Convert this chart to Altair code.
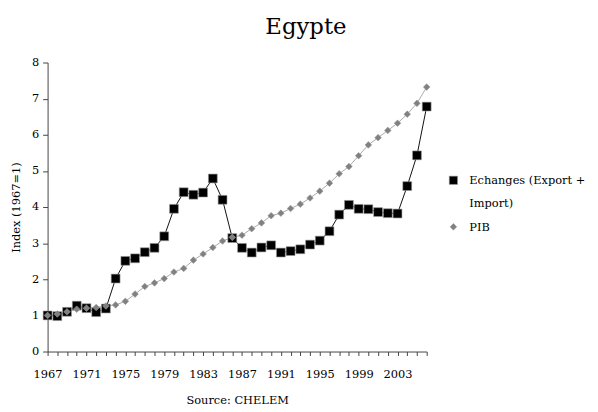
import altair as alt
import pandas as pd

years = list(range(1967, 2007))
echanges = [1.00, 0.98, 1.10, 1.27, 1.20, 1.09, 1.19, 2.02, 2.51, 2.58,
            2.75, 2.87, 3.19, 3.95, 4.41, 4.34, 4.40, 4.79, 4.20, 3.14,
            2.87, 2.74, 2.88, 2.94, 2.74, 2.78, 2.83, 2.96, 3.07, 3.33,
            3.79, 4.06, 3.95, 3.94, 3.86, 3.83, 3.82, 4.58, 5.43, 6.78]
pib = [1.00, 1.04, 1.10, 1.17, 1.20, 1.22, 1.26, 1.29, 1.39, 1.59,
       1.80, 1.90, 2.02, 2.20, 2.30, 2.53, 2.70, 2.88, 3.06, 3.16,
       3.22, 3.40, 3.56, 3.76, 3.83, 3.96, 4.08, 4.25, 4.44, 4.66,
       4.92, 5.12, 5.42, 5.72, 5.92, 6.12, 6.32, 6.57, 6.87, 7.32]

s1 = "Echanges (Export + Import)"
s2 = "PIB"
legend_lines_1 = ["Echanges (Export +", "Import)"]
legend_lines_2 = ["PIB"]

df = pd.DataFrame({
    "year": years + years,
    "value": echanges + pib,
    "series": [s1] * len(years) + [s2] * len(years),
})
df["line_series"] = df["series"]

font = "DejaVu Serif"

x = alt.X("year:Q", scale=alt.Scale(domain=[1967, 2006], nice=False, zero=False),
          axis=alt.Axis(values=years, labelExpr="(datum.value - 1967) % 4 == 0 ? datum.value : ''",
                        title="Source: CHELEM", grid=False, tickSize=4, labelPadding=13,
                        titlePadding=15, domainColor="#444", tickColor="#444", labelFlush=False))
y = alt.Y("value:Q", scale=alt.Scale(domain=[0, 8], nice=False),
          axis=alt.Axis(values=list(range(0, 9)), title="Index (1967=1)", grid=False,
                        tickSize=5, labelPadding=4, titlePadding=10,
                        domainColor="#444", tickColor="#444"))

base = alt.Chart(df)
lines = base.mark_line(strokeWidth=1).encode(
    x=x, y=y,
    color=alt.Color("line_series:N", scale=alt.Scale(domain=[s1, s2], range=["#111111", "#aaaaaa"]), legend=None),
)
points = base.mark_point(filled=True, opacity=1, stroke="#9a9a9a", strokeWidth=0.6).encode(
    x=x, y=y,
    fill=alt.Fill("series:N", scale=alt.Scale(domain=[s1, s2], range=["#000000", "#808080"]), legend=None),
    shape=alt.Shape("series:N", scale=alt.Scale(domain=[s1, s2], range=["square", "diamond"]), legend=None),
    size=alt.Size("series:N", scale=alt.Scale(domain=[s1, s2], range=[80, 45]), legend=None),
)

# legend (drawn by hand, outside the plot area on the right)
one = pd.DataFrame({"k": [0]})
leg_sym1 = alt.Chart(one).mark_point(shape="square", filled=True, fill="#000000", stroke="#9a9a9a",
                                     strokeWidth=0.6, size=70, opacity=1).encode(
    x=alt.value(410), y=alt.value(119))
leg_sym2 = alt.Chart(one).mark_point(shape="diamond", filled=True, fill="#808080", stroke="#9a9a9a",
                                     strokeWidth=0.6, size=45, opacity=1).encode(
    x=alt.value(410), y=alt.value(166))
txt_kw = dict(align="left", baseline="middle", font=font, fontSize=11.5, color="#000")
leg_t1 = alt.Chart(one).mark_text(**txt_kw, text=legend_lines_1[0]).encode(
    x=alt.value(426), y=alt.value(120))
leg_t2 = alt.Chart(one).mark_text(**txt_kw, text=legend_lines_1[1]).encode(
    x=alt.value(426), y=alt.value(143))
leg_t3 = alt.Chart(one).mark_text(**txt_kw, text=legend_lines_2[0]).encode(
    x=alt.value(426), y=alt.value(167))

chart = alt.layer(lines, points, leg_sym1, leg_sym2, leg_t1, leg_t2, leg_t3).properties(
    width=383, height=292,
    padding={"left": 40, "top": 53, "right": 165, "bottom": 58},
    autosize=alt.AutoSizeParams(type="none"),
    title=alt.Title("Egypte", font=font, fontSize=23, fontWeight="normal", color="#000",
                    anchor="start", frame="group", dx=220, offset=18),
).configure_view(stroke=None).configure_axis(
    labelFont=font, labelFontSize=11.5, labelColor="#000",
    titleFont=font, titleFontSize=11.5, titleFontWeight="normal", titleColor="#000",
).configure_text(font=font, fontSize=11.5)

chart.save("out.html", embed_options={"renderer": "svg", "actions": False})
